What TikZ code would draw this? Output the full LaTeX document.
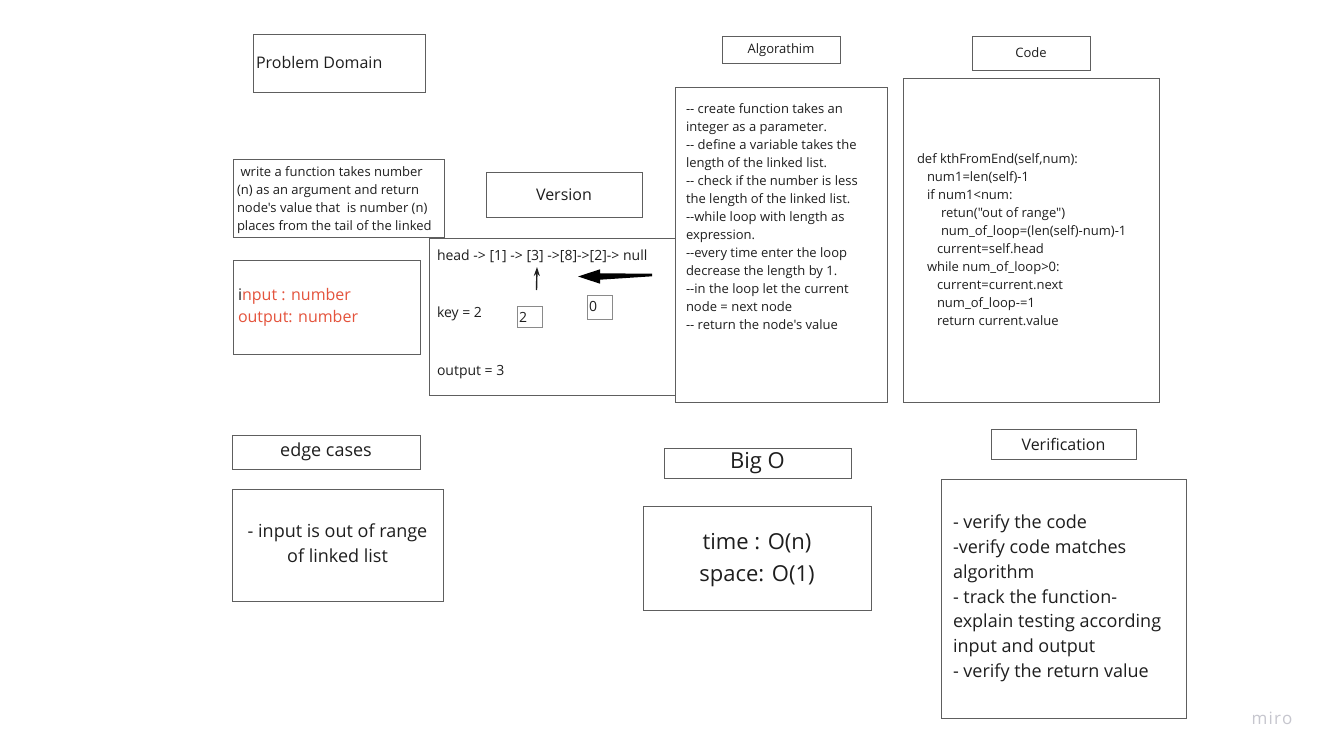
\documentclass[tikz,border=0pt]{standalone}
\usepackage{fontspec}
\setmainfont{Open Sans}[Ligatures=TeXOff]
\usetikzlibrary{arrows.meta,calc}
\definecolor{edgegray}{HTML}{5E5E5E}
\definecolor{lightedge}{HTML}{8A8A8A}
\definecolor{txt}{HTML}{1E1E1E}
\definecolor{redtxt}{HTML}{E4533C}
\definecolor{mirogray}{HTML}{C6C6CE}
\newcommand{\fsz}[2]{\fontsize{#1}{#2}\selectfont}
\begin{document}
\begin{tikzpicture}[x=1pt,y=-1pt,
  frame/.style={draw=edgegray, line width=1pt, inner sep=0pt, outer sep=0pt, anchor=north west, rectangle, text=txt},
  smallframe/.style={draw=lightedge, line width=1pt, inner sep=0pt, outer sep=0pt, anchor=north west, rectangle},
  body/.style={inner sep=0pt, outer sep=0pt, anchor=north west, align=left, text=txt},
  oneline/.style={inner sep=0pt, outer sep=0pt, anchor=west, text=txt}]
\fill[white] (0,0) rectangle (1324,755);
\useasboundingbox (0,0) rectangle (1324,755);

% --- frames with titles
\node[frame, minimum width=172pt, minimum height=58pt] (pd) at (253,34) {};
\node[oneline, font=\fsz{16}{20}] (pdt) at (256,62) {Problem Domain};

\node[frame, minimum width=118pt, minimum height=27pt] (alg) at (722,36) {};
\node[inner sep=0pt, text=txt, font=\fsz{13}{16}] (algl) at (781,50) {Algorathim};
\node[frame, minimum width=118pt, minimum height=34pt, font=\fsz{13}{16}] (code) at (972,36) {Code};
\node[frame, minimum width=156pt, minimum height=45pt, font=\fsz{16}{20}] (ver) at (486,172) {Version};
\node[frame, minimum width=188pt, minimum height=34pt, font=\fsz{18}{22}] (edge) at (232,435) {edge cases};
\node[frame, minimum width=187pt, minimum height=30pt, font=\fsz{22}{26}] (bigo) at (664,448) {Big O};
\node[frame, minimum width=145pt, minimum height=30pt, font=\fsz{16}{20}] (verif) at (991,429) {Verification};

% --- content frames
\node[frame, minimum width=211pt, minimum height=78pt] (stmt) at (233,159) {};
\node[body, font=\fsz{13}{18}] (stmtt) at (237,166.5) {\hspace*{3.6pt}write a function takes number\\(n) as an argument and return\\node's value that~ is number (n)\\places from the tail of the linked};

\node[frame, minimum width=187pt, minimum height=94pt] (inp) at (233,260) {};
\node[body, font=\fsz{16}{22}, text=redtxt] (inpt) at (238,288) {\textcolor{txt}{i}nput : number\\output: number};

\node[frame, minimum width=246pt, minimum height=157pt] (ex) at (429,238) {};
\node[oneline, font=\fsz{14}{18}] (exhead) at (437,256) {head -> [1] -> [3] ->[8]->[2]-> null};
\node[oneline, font=\fsz{14}{18}] (exkey) at (437,314) {key = 2};
\node[oneline, font=\fsz{14}{18}] (exout) at (437,372) {output = 3};
\node[smallframe, minimum width=25pt, minimum height=21pt] (btwo) at (517,306) {};
\node[oneline, font=\fsz{14}{18}] (btwot) at (519,317) {2};
\node[smallframe, minimum width=25pt, minimum height=24pt] (bzero) at (587,295) {};
\node[oneline, font=\fsz{14}{18}] (bzerot) at (589,306) {0};

% arrows
\coordinate (uptail) at (536.5,290);
\coordinate (uphead) at (537,267);
\draw[txt, line width=1.4pt, -{Stealth[length=9pt,width=6pt]}] (uptail) -- (uphead);
\coordinate (bigtail) at (652,275);
\coordinate (bigtip) at (578,276.5);
\fill[black] ($(bigtail)+(0,-1.3)$) -- (600,273.3) -- (600,269.3) -- (bigtip) -- (600,283.7) -- (600,279.7) -- ($(bigtail)+(0,1.3)$) -- cycle;

\node[frame, minimum width=212pt, minimum height=315pt] (algbox) at (675,87) {};
\node[body, font=\fsz{13}{18}] (algt) at (686,103.5) {-- create function takes an\\integer as a parameter.\\-- define a variable takes the\\length of the linked list.\\-- check if the number is less\\the length of the linked list.\\--while loop with length as\\expression.\\--every time enter the loop\\decrease the length by 1.\\--in the loop let the current\\node = next node\\-- return the node's value};

\node[frame, minimum width=256pt, minimum height=324pt] (codebox) at (903,78) {};
\node[body, font=\fsz{13}{18}] (codet) at (917,153.5) {def kthFromEnd(self,num):\\
\hspace*{10pt}num1=len(self)-1\\
\hspace*{10pt}if num1<num:\\
\hspace*{24pt}retun("out of range")\\
\hspace*{24pt}num\_of\_loop=(len(self)-num)-1\\
\hspace*{20pt}current=self.head\\
\hspace*{10pt}while num\_of\_loop>0:\\
\hspace*{20pt}current=current.next\\
\hspace*{20pt}num\_of\_loop-=1\\
\hspace*{20pt}return current.value};

\node[frame, minimum width=211pt, minimum height=112pt] (edgebox) at (232,489) {};
\node[inner sep=0pt, align=center, text=txt, font=\fsz{18}{25}] (edget) at (337.5,543) {- input is out of range\\of linked list};

\node[frame, minimum width=228pt, minimum height=104pt] (bigobox) at (643,506) {};
\node[inner sep=0pt, align=center, text=txt, font=\fsz{22}{32}] (bigot) at (757,560) {time : O(n)\\space: O(1)};

\node[frame, minimum width=245pt, minimum height=239pt] (verifbox) at (941,479) {};
\node[body, font=\fsz{18}{24.8}] (veriftxt) at (953,515) {- verify the code\\-verify code matches\\algorithm\\- track the function-\\explain testing according\\input and output\\- verify the return value};

\node[inner sep=0pt, text=mirogray, font=\fsz{17}{20}] (miro) at (1272,718) {m\kern1.2pt i\kern1.2pt r\kern1.2pt o};
\end{tikzpicture}
\end{document}
